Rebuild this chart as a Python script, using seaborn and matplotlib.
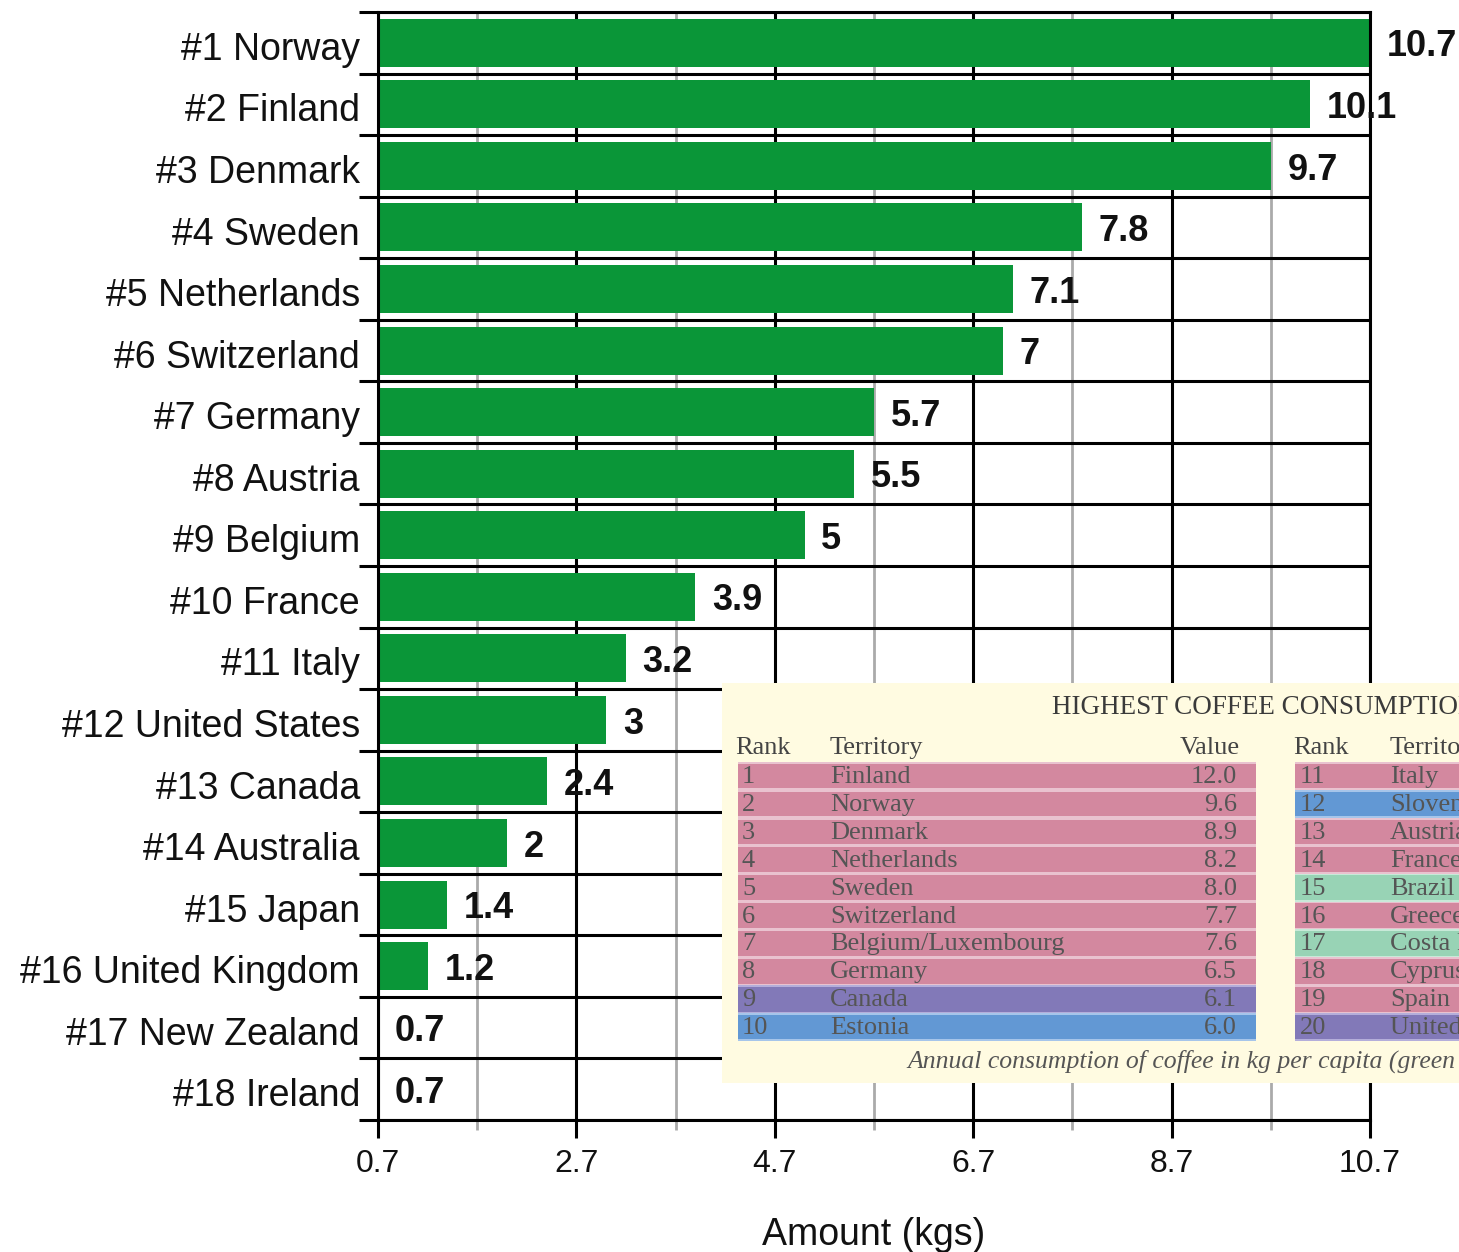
import matplotlib
matplotlib.use("Agg")
import matplotlib.pyplot as plt
import seaborn as sns
import pandas as pd
import numpy as np
from matplotlib.patches import Rectangle
from matplotlib.ticker import FixedLocator, NullFormatter

# ---------------- data ----------------
countries = ["Norway", "Finland", "Denmark", "Sweden", "Netherlands", "Switzerland",
             "Germany", "Austria", "Belgium", "France", "Italy", "United States",
             "Canada", "Australia", "Japan", "United Kingdom", "New Zealand", "Ireland"]
amounts = [10.7, 10.1, 9.7, 7.8, 7.1, 7, 5.7, 5.5, 5, 3.9, 3.2, 3, 2.4, 2, 1.4, 1.2, 0.7, 0.7]
x_ticks = [0.7, 2.7, 4.7, 6.7, 8.7, 10.7]
x_minor_ticks = [1.7, 3.7, 5.7, 7.7, 9.7]
x_label = "Amount (kgs)"

table_title = "HIGHEST COFFEE CONSUMPTION"
table_headers = ["Rank", "Territory", "Value"]
left_ranks = ["1", "2", "3", "4", "5", "6", "7", "8", "9", "10"]
left_territories = ["Finland", "Norway", "Denmark", "Netherlands", "Sweden", "Switzerland",
                    "Belgium/Luxembourg", "Germany", "Canada", "Estonia"]
left_values = ["12.0", "9.6", "8.9", "8.2", "8.0", "7.7", "7.6", "6.5", "6.1", "6.0"]
left_groups = ["pink"] * 8 + ["purple", "blue"]
right_ranks = ["11", "12", "13", "14", "15", "16", "17", "18", "19", "20"]
right_territories = ["Italy", "Slovenia", "Austria", "France", "Brazil", "Greece",
                     "Costa Rica", "Cyprus", "Spain", "United States"]
right_groups = ["pink", "blue", "pink", "pink", "green", "pink", "green", "pink", "pink", "purple"]
table_note = "Annual consumption of coffee in kg per capita (green coffee equivalent)"

# ---------------- style ----------------
GREEN = "#0A9638"
band_main = {"pink": "#D3889F", "purple": "#8279B8", "blue": "#6298D4", "green": "#98D3B5"}
band_light = {"pink": "#E9C2CF", "purple": "#B4AEDA", "blue": "#A6C5EA", "green": "#C8E9D8"}

sns.set_theme(style="white")
plt.rcParams["font.family"] = ["Liberation Sans", "DejaVu Sans"]

W, H = 1459, 1252
fig = plt.figure(figsize=(W / 100, H / 100), dpi=100)
ax = fig.add_axes([378 / W, 1 - 1120 / H, (1370 - 378) / W, (1120 - 12) / H])

labels = [f"#{i + 1} {c}" for i, c in enumerate(countries)]
df = pd.DataFrame({"label": labels, "amount": amounts})
sns.barplot(data=df, x="amount", y="label", orient="h", color=GREEN, saturation=1,
            width=0.78, linewidth=0, ax=ax)

n = len(labels)
ax.set_xlim(x_ticks[0], x_ticks[-1])
ax.set_ylim(n - 0.5, -0.5)

# y axis: boundaries as major ticks (lines), labels on minor ticks
ax.yaxis.set_major_locator(FixedLocator(np.arange(-0.5, n, 1.0)))
ax.yaxis.set_major_formatter(NullFormatter())
ax.set_yticks(np.arange(n) + 0.05, labels=labels, minor=True)
ax.tick_params(axis="y", which="major", left=True, length=14, width=2.2, color="black", direction="out")
ax.tick_params(axis="y", which="minor", left=True, length=0, pad=13, labelsize=27, labelcolor="#111111")

# x axis
ax.set_xticks(x_ticks, labels=[f"{v:g}" for v in x_ticks])
ax.set_xticks(x_minor_ticks, minor=True)
ax.tick_params(axis="x", which="major", bottom=True, length=13, width=2.2, color="black",
               labelsize=23, pad=8, labelcolor="#111111")
ax.tick_params(axis="x", which="minor", bottom=True, length=7, width=2, color="#AAAAAA")
ax.set_xlabel(x_label, fontsize=27, labelpad=27, color="#111111")
ax.set_ylabel("")

ax.set_axisbelow(True)
ax.grid(axis="y", which="major", color="black", lw=2.2)
ax.grid(axis="x", which="major", color="black", lw=2.2)
ax.grid(axis="x", which="minor", color="#AAAAAA", lw=2)
for s in ax.spines.values():
    s.set_visible(True)
    s.set_color("black")
    s.set_linewidth(2.2)

for i, v in enumerate(amounts):
    ax.annotate(f"{v:g}", xy=(v, i), xytext=(12, -3), textcoords="offset points",
                ha="left", va="center", fontsize=26, fontweight="bold", color="#111111",
                annotation_clip=False)

# ---------------- inset table (clipped at the right edge, as in the reference) ----------------
ix0, ix1, iy0, iy1 = 722, W, 683, 1083
iax = fig.add_axes([ix0 / W, 1 - iy1 / H, (ix1 - ix0) / W, (iy1 - iy0) / H])
iax.set_xlim(ix0, ix1)
iax.set_ylim(iy1, iy0)
iax.set_facecolor("#FFFBE1")
iax.set_xticks([])
iax.set_yticks([])
for s in iax.spines.values():
    s.set_visible(False)

serif = ["Liberation Serif", "DejaVu Serif"]
tcol = "#444444"
fs = 19

iax.text(1052, 707, table_title, fontsize=19.5, family=serif, color="#3A3A3A",
         va="center", ha="left", clip_on=True)

row0, stride = 776, 27.9
blocks = [
    (738, 1256, 742, 830, 1237, left_ranks, left_territories, left_values, left_groups),
    (1295, 1600, 1300, 1390, None, right_ranks, right_territories, None, right_groups),
]
for bx0, bx1, rx, tx, vx, ranks, terrs, vals, groups in blocks:
    iax.text(rx - 7, 748, table_headers[0], fontsize=fs, family=serif, color=tcol,
             va="center", ha="left", clip_on=True)
    iax.text(tx, 748, table_headers[1], fontsize=fs, family=serif, color=tcol,
             va="center", ha="left", clip_on=True)
    if vx is not None:
        iax.text(vx + 3, 748, table_headers[2], fontsize=fs, family=serif, color=tcol,
                 va="center", ha="right", clip_on=True)
    for i, g in enumerate(groups):
        cy = row0 + i * stride
        iax.add_patch(Rectangle((bx0, cy - stride / 2), bx1 - bx0, stride,
                                facecolor=band_light[g], edgecolor="none", clip_on=True))
        iax.add_patch(Rectangle((bx0, cy - 12.3), bx1 - bx0, 24.6,
                                facecolor=band_main[g], edgecolor="none", clip_on=True))
        iax.text(rx, cy + 1, ranks[i], fontsize=fs, family=serif, color="#555555",
                 va="center", ha="left", clip_on=True)
        iax.text(tx, cy + 1, terrs[i], fontsize=fs, family=serif, color="#555555",
                 va="center", ha="left", clip_on=True)
        if vals is not None:
            iax.text(vx, cy + 1, vals[i], fontsize=fs, family=serif, color="#555555",
                     va="center", ha="right", clip_on=True)

iax.text(907, 1061, table_note, fontsize=18.5, family=serif, style="italic",
         color="#555555", va="center", ha="left", clip_on=True)

fig.savefig("out.png", dpi=100)
